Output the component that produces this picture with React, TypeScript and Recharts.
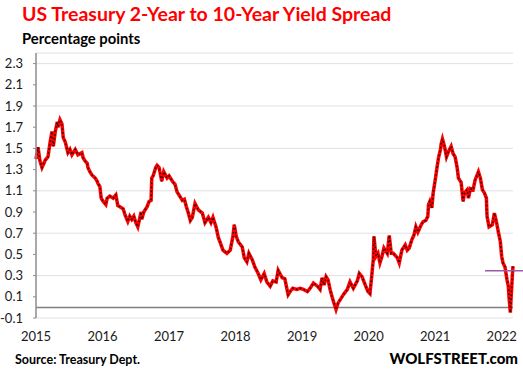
import React from "react";
import {
  LineChart,
  Line,
  XAxis,
  YAxis,
  CartesianGrid,
  ReferenceLine
} from "recharts";

// time as decimal year, spread in percentage points
const dates = [
  2015.0, 2015.03, 2015.06, 2015.09, 2015.14, 2015.18, 2015.21, 2015.24, 2015.26, 2015.29,
  2015.32, 2015.33, 2015.36, 2015.39, 2015.41, 2015.44, 2015.48, 2015.51, 2015.54, 2015.59,
  2015.63, 2015.69, 2015.71, 2015.74, 2015.77, 2015.78, 2015.81, 2015.84, 2015.89, 2015.92,
  2015.93, 2015.96, 2015.98, 2016.01, 2016.05, 2016.07, 2016.11, 2016.16, 2016.2, 2016.23,
  2016.26, 2016.31, 2016.34, 2016.38, 2016.41, 2016.44, 2016.47, 2016.5, 2016.53, 2016.58,
  2016.59, 2016.62, 2016.67, 2016.7, 2016.73, 2016.74, 2016.76, 2016.8, 2016.82, 2016.85,
  2016.89, 2016.92, 2016.97, 2017.0, 2017.05, 2017.09, 2017.12, 2017.17, 2017.2, 2017.23,
  2017.26, 2017.29, 2017.32, 2017.35, 2017.39, 2017.44, 2017.5, 2017.54, 2017.59, 2017.63,
  2017.66, 2017.71, 2017.74, 2017.77, 2017.81, 2017.87, 2017.92, 2017.96, 2017.98, 2018.01,
  2018.04, 2018.1, 2018.13, 2018.17, 2018.2, 2018.25, 2018.29, 2018.34, 2018.38, 2018.43,
  2018.47, 2018.52, 2018.56, 2018.61, 2018.64, 2018.7, 2018.74, 2018.79, 2018.82, 2018.86,
  2018.92, 2018.97, 2019.02, 2019.08, 2019.12, 2019.17, 2019.23, 2019.27, 2019.3, 2019.33,
  2019.36, 2019.39, 2019.42, 2019.45, 2019.48, 2019.51, 2019.54, 2019.59, 2019.62, 2019.68,
  2019.72, 2019.77, 2019.83, 2019.86, 2019.9, 2019.95, 2019.99, 2020.02, 2020.05, 2020.07,
  2020.08, 2020.11, 2020.14, 2020.17, 2020.2, 2020.23, 2020.28, 2020.31, 2020.34, 2020.37,
  2020.43, 2020.46, 2020.5, 2020.55, 2020.58, 2020.61, 2020.65, 2020.68, 2020.71, 2020.74,
  2020.79, 2020.82, 2020.86, 2020.89, 2020.9, 2020.92, 2020.95, 2020.97, 2021.0, 2021.03,
  2021.05, 2021.08, 2021.09, 2021.11, 2021.14, 2021.17, 2021.2, 2021.24, 2021.27, 2021.3,
  2021.33, 2021.35, 2021.39, 2021.42, 2021.44, 2021.48, 2021.5, 2021.53, 2021.57, 2021.6,
  2021.65, 2021.68, 2021.71, 2021.74, 2021.77, 2021.78, 2021.81, 2021.86, 2021.89, 2021.92,
  2021.95, 2021.98, 2022.0, 2022.02, 2022.05, 2022.08, 2022.1, 2022.11, 2022.13, 2022.14,
  2022.16, 2022.17
];

const spread = [
  1.4, 1.51, 1.38, 1.32, 1.39, 1.42, 1.55, 1.66, 1.52, 1.66,
  1.75, 1.7, 1.77, 1.73, 1.6, 1.56, 1.46, 1.49, 1.44, 1.49,
  1.44, 1.46, 1.41, 1.38, 1.36, 1.32, 1.28, 1.25, 1.22, 1.19,
  1.17, 1.14, 1.03, 1.0, 0.97, 1.03, 1.05, 1.03, 1.06, 0.96,
  0.95, 0.93, 0.87, 0.81, 0.86, 0.83, 0.86, 0.8, 0.76, 0.9,
  0.83, 0.9, 0.95, 1.0, 1.01, 1.22, 1.24, 1.32, 1.34, 1.32,
  1.19, 1.28, 1.22, 1.24, 1.19, 1.16, 1.09, 1.04, 1.01, 1.02,
  0.95, 0.89, 0.82, 0.85, 0.98, 0.92, 0.89, 0.8, 0.85, 0.8,
  0.85, 0.75, 0.66, 0.61, 0.54, 0.51, 0.54, 0.67, 0.78, 0.67,
  0.62, 0.57, 0.47, 0.43, 0.51, 0.45, 0.38, 0.32, 0.26, 0.32,
  0.24, 0.2, 0.25, 0.24, 0.35, 0.28, 0.27, 0.12, 0.15, 0.18,
  0.17, 0.18, 0.17, 0.15, 0.18, 0.23, 0.2, 0.17, 0.28, 0.21,
  0.29, 0.26, 0.17, 0.1, 0.04, -0.02, 0.04, 0.09, 0.12, 0.17,
  0.24, 0.18, 0.25, 0.32, 0.29, 0.21, 0.15, 0.13, 0.32, 0.45,
  0.67, 0.48, 0.51, 0.42, 0.48, 0.56, 0.51, 0.68, 0.51, 0.51,
  0.47, 0.42, 0.54, 0.59, 0.54, 0.56, 0.64, 0.68, 0.76, 0.71,
  0.78, 0.81, 0.82, 0.86, 0.97, 1.0, 0.94, 1.08, 1.2, 1.33,
  1.41, 1.49, 1.54, 1.59, 1.52, 1.42, 1.47, 1.52, 1.45, 1.42,
  1.32, 1.22, 1.18, 1.0, 1.08, 1.11, 1.03, 1.12, 1.11, 1.2,
  1.28, 1.22, 1.11, 1.08, 1.03, 0.86, 0.76, 0.78, 0.89, 0.81,
  0.71, 0.62, 0.48, 0.42, 0.38, 0.26, 0.2, 0.1, -0.05, 0.07,
  0.3, 0.39
];

const yearTicks = [2015, 2016, 2017, 2018, 2019, 2020, 2021, 2022];
const spreadTicks = [-0.1, 0.1, 0.3, 0.5, 0.7, 0.9, 1.1, 1.3, 1.5, 1.7, 1.9, 2.1, 2.3];

// short marker line near the end
const markStart = 2021.75;
const markEnd = 2022.32;
const markLevel = 0.345;

const data = dates.map((t, i) => ({ t, v: spread[i] }));

const font = "Lato, 'Open Sans', sans-serif";

export default function App() {
  return (
    <div
      style={{
        position: "absolute",
        left: 0,
        top: 0,
        width: 523,
        height: 379,
        background: "#fff",
        fontFamily: font
      }}
    >
      <div
        style={{
          position: "absolute",
          left: 22,
          top: 3,
          fontSize: 19.5,
          lineHeight: "22px",
          fontWeight: 700,
          color: "#ff0000",
          whiteSpace: "nowrap"
        }}
      >
        US Treasury 2-Year to 10-Year Yield Spread
      </div>
      <div
        style={{
          position: "absolute",
          left: 22,
          top: 30,
          fontSize: 14.8,
          lineHeight: "16px",
          fontWeight: 700,
          color: "#000"
        }}
      >
        Percentage points
      </div>

      <LineChart
        width={523}
        height={379}
        data={data}
        margin={{ top: 53, right: 10, left: 6, bottom: 36 }}
      >
        <CartesianGrid vertical={false} stroke="#e0e0e6" strokeWidth={1} />
        <XAxis
          dataKey="t"
          type="number"
          domain={[2015, 2022.17]}
          ticks={yearTicks}
          axisLine={false}
          tickLine={false}
          tickMargin={8}
          height={25}
          tick={{ fontSize: 13, fill: "#1a1a1a", fontFamily: font }}
        />
        <YAxis
          type="number"
          domain={[-0.1, 2.4]}
          ticks={spreadTicks}
          width={30}
          tickSize={3}
          tickMargin={10}
          axisLine={{ stroke: "#8c8c8c", strokeWidth: 1.5 }}
          tickLine={{ stroke: "#8c8c8c" }}
          tickFormatter={(v) => v.toFixed(1)}
          tick={{ fontSize: 13, fill: "#1a1a1a", fontFamily: font }}
        />
        <ReferenceLine y={0} stroke="#808080" strokeWidth={1.5} />
        <Line
          dataKey="v"
          type="linear"
          stroke="#ff0000"
          strokeWidth={3.5}
          dot={false}
          isAnimationActive={false}
        />
        <Line
          dataKey="v"
          type="linear"
          stroke="#1a0000"
          strokeWidth={1.4}
          strokeDasharray="1.5 2.5"
          dot={false}
          isAnimationActive={false}
        />
        <ReferenceLine
          segment={[
            { x: markStart, y: markLevel },
            { x: markEnd, y: markLevel }
          ]}
          ifOverflow="visible"
          stroke="#9b59a8"
          strokeWidth={1.5}
        />
      </LineChart>

      <div
        style={{
          position: "absolute",
          left: 15,
          top: 352,
          fontSize: 12.5,
          fontWeight: 700,
          color: "#000"
        }}
      >
        Source: Treasury Dept.
      </div>
      <div
        style={{
          position: "absolute",
          right: 5,
          top: 349,
          fontSize: 15,
          fontWeight: 900,
          color: "#000"
        }}
      >
        WOLFSTREET.com
      </div>
    </div>
  );
}
